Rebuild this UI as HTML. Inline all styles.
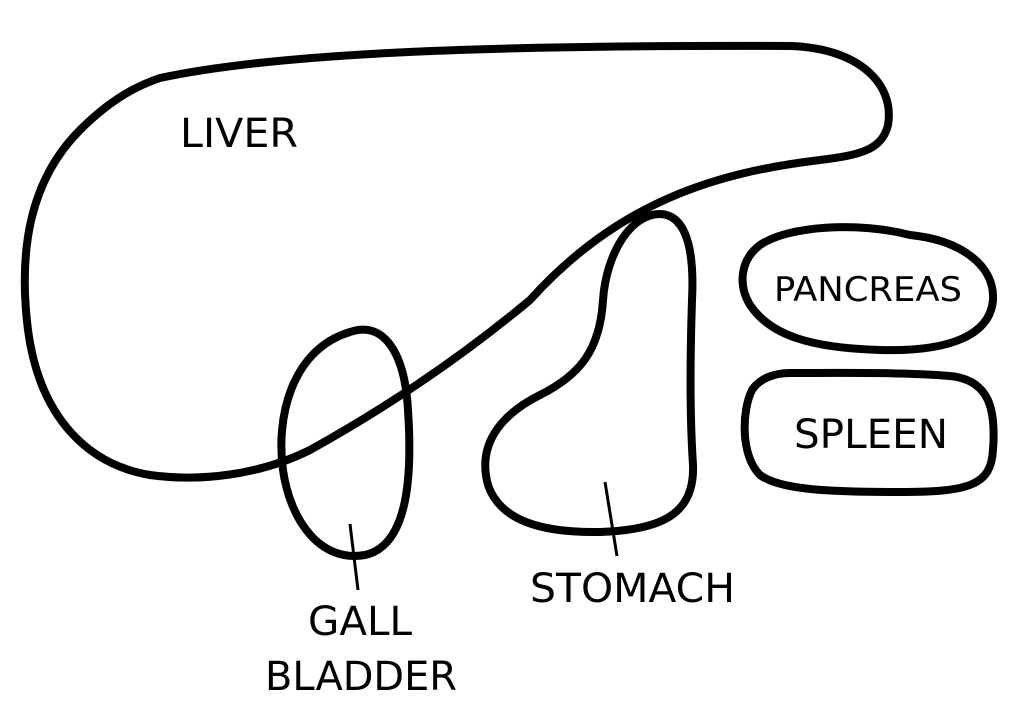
<!DOCTYPE html>
<html><head><meta charset="utf-8"><style>
html,body{margin:0;padding:0;background:#fff;}
svg{display:block;}
text{font-family:"DejaVu Sans","Liberation Sans",sans-serif;fill:#000;}
</style></head><body>
<svg width="1024" height="715" viewBox="0 0 1024 715" xmlns="http://www.w3.org/2000/svg">
<g fill="none" stroke="#000" stroke-width="8" stroke-linejoin="round" stroke-linecap="round">
<path d="M160,78 C280,52 500,45 790,46 C860,48 895,85 888,125 C882,150 860,155 820,160 C720,172 620,200 530,300 C470,350 400,400 310,450 C260,475 200,482 150,475 C90,465 40,420 28,330 C18,250 30,180 80,130 C105,105 130,88 160,78 Z"/>
<path d="M350,332 C385,320 405,355 408,410 C412,470 410,545 365,555 C320,563 290,520 283,470 C276,420 290,350 350,332 Z"/>
<path d="M660,214 C690,215 694,260 692,300 C690,360 690,420 693,465 C695,515 660,530 600,532 C540,533 500,520 488,485 C477,445 500,415 540,395 C580,375 600,350 603,300 C606,255 630,214 660,214 Z"/>
<path d="M760,245 C790,225 860,222 910,235 C960,240 995,265 993,300 C990,335 950,352 880,350 C810,348 770,335 750,305 C738,285 740,260 760,245 Z"/>
<path d="M790,373 C840,373 900,372 950,376 C990,380 996,410 993,450 C991,485 970,492 900,492 C830,492 780,490 760,475 C740,455 742,410 752,390 C760,378 775,373 790,373 Z"/>
</g>
<g stroke="#000" stroke-width="3">
<line x1="350" y1="524" x2="358" y2="590"/>
<line x1="605" y1="482" x2="617" y2="556"/>
</g>
<text x="180" y="147" font-size="40" textLength="118" lengthAdjust="spacingAndGlyphs">LIVER</text>
<text x="774" y="301" font-size="34" textLength="188" lengthAdjust="spacingAndGlyphs">PANCREAS</text>
<text x="794" y="448" font-size="40" textLength="154" lengthAdjust="spacingAndGlyphs">SPLEEN</text>
<text x="530" y="602" font-size="40" textLength="205" lengthAdjust="spacingAndGlyphs">STOMACH</text>
<text x="308" y="635" font-size="40" textLength="104" lengthAdjust="spacingAndGlyphs">GALL</text>
<text x="265" y="690" font-size="40" textLength="192" lengthAdjust="spacingAndGlyphs">BLADDER</text>
</svg>
</body></html>
